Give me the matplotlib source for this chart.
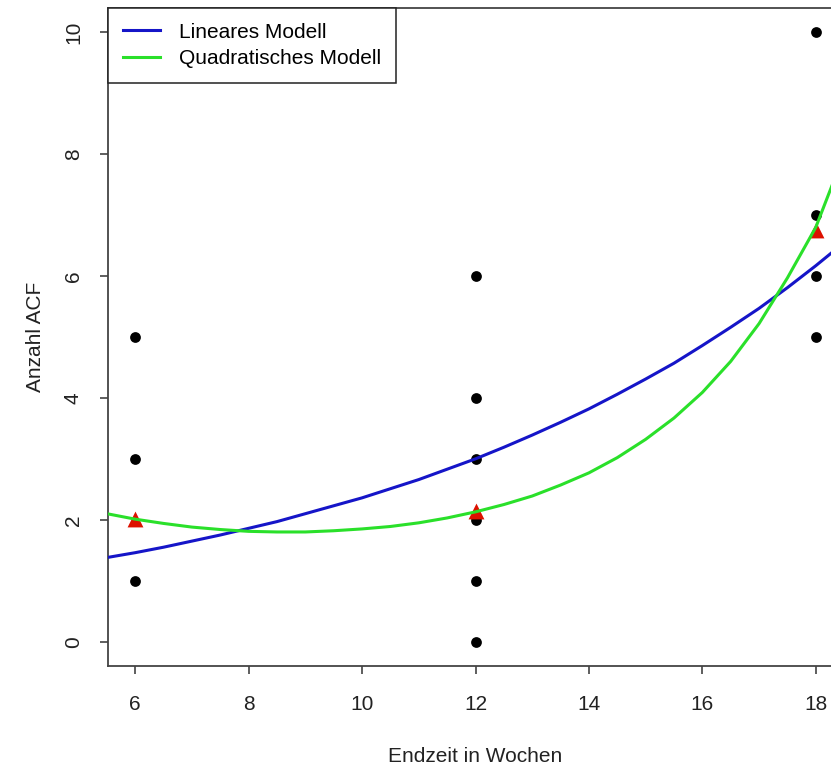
import matplotlib

matplotlib.use('Agg')
import matplotlib.pyplot as plt

# observed counts per end time (weeks)
weeks_obs = [6, 6, 6, 12, 12, 12, 12, 12, 12, 18, 18, 18, 18]
acf_obs = [1, 3, 5, 0, 1, 2, 3, 4, 6, 5, 6, 7, 10]

# group means
weeks_mean = [6, 12, 18]
acf_mean = [2.02, 2.15, 6.75]

# fitted curves (Poisson GLM, log link)
weeks_grid = [5.5, 6, 6.5, 7, 7.5, 8, 8.5, 9, 9.5, 10, 10.5, 11, 11.5, 12,
              12.5, 13, 13.5, 14, 14.5, 15, 15.5, 16, 16.5, 17, 17.5, 18, 18.5]
fit_linear = [1.38, 1.46, 1.55, 1.65, 1.75, 1.86, 1.97, 2.10, 2.23, 2.36, 2.51, 2.66, 2.83, 3.00,
              3.19, 3.39, 3.60, 3.82, 4.06, 4.31, 4.57, 4.86, 5.16, 5.47, 5.81, 6.17, 6.55]
fit_quad = [2.10, 2.01, 1.94, 1.88, 1.84, 1.81, 1.80, 1.80, 1.82, 1.85, 1.89, 1.95, 2.03, 2.13,
            2.25, 2.39, 2.57, 2.77, 3.02, 3.32, 3.67, 4.09, 4.60, 5.22, 5.97, 6.80, 8.00]

x_ticks = [6, 8, 10, 12, 14, 16, 18]
y_ticks = [0, 2, 4, 6, 8, 10]

plt.rcParams['font.family'] = ['Liberation Sans', 'DejaVu Sans']
fs = 15

fig = plt.figure(figsize=(8.31, 7.67), dpi=100)
ax = fig.add_axes([108 / 831, 101 / 767, 735 / 831, 658 / 767])

ax.scatter(weeks_obs, acf_obs, s=60, color='black', zorder=3, linewidths=0)
ax.plot(weeks_grid, fit_linear, color='#1515c8', lw=2.2, label='Lineares Modell', zorder=4)
ax.plot(weeks_grid, fit_quad, color='#2ae02a', lw=2.2, label='Quadratisches Modell', zorder=4)
ax.scatter(weeks_mean, acf_mean, marker='^', s=130, color='#dd1100', zorder=3, linewidths=0)

ax.set_xlim(5.52, 18.48)
ax.set_ylim(-0.4, 10.4)
ax.set_xticks(x_ticks)
ax.set_yticks(y_ticks)
ax.set_yticklabels([str(v) for v in y_ticks], rotation=90, va='center')
ax.tick_params(axis='both', direction='out', length=6, width=1.1, color='#333333',
               labelsize=fs, labelcolor='#222222')
ax.tick_params(axis='x', pad=15)
ax.tick_params(axis='y', pad=12)
for sp in ax.spines.values():
    sp.set_color('#444444')
    sp.set_linewidth(1.3)

ax.set_xlabel('Endzeit in Wochen', fontsize=fs, color='#222222', labelpad=24)
ax.set_ylabel('Anzahl ACF', fontsize=fs, color='#222222', labelpad=14)

leg = ax.legend(loc='upper left', bbox_to_anchor=(0, 1), borderaxespad=0, fontsize=fs,
                fancybox=False, edgecolor='#222222', framealpha=1, handlelength=1.8,
                handletextpad=0.9, labelspacing=0.38, borderpad=0.7)
leg.get_frame().set_linewidth(1.1)

fig.savefig('out.png', dpi=100)
